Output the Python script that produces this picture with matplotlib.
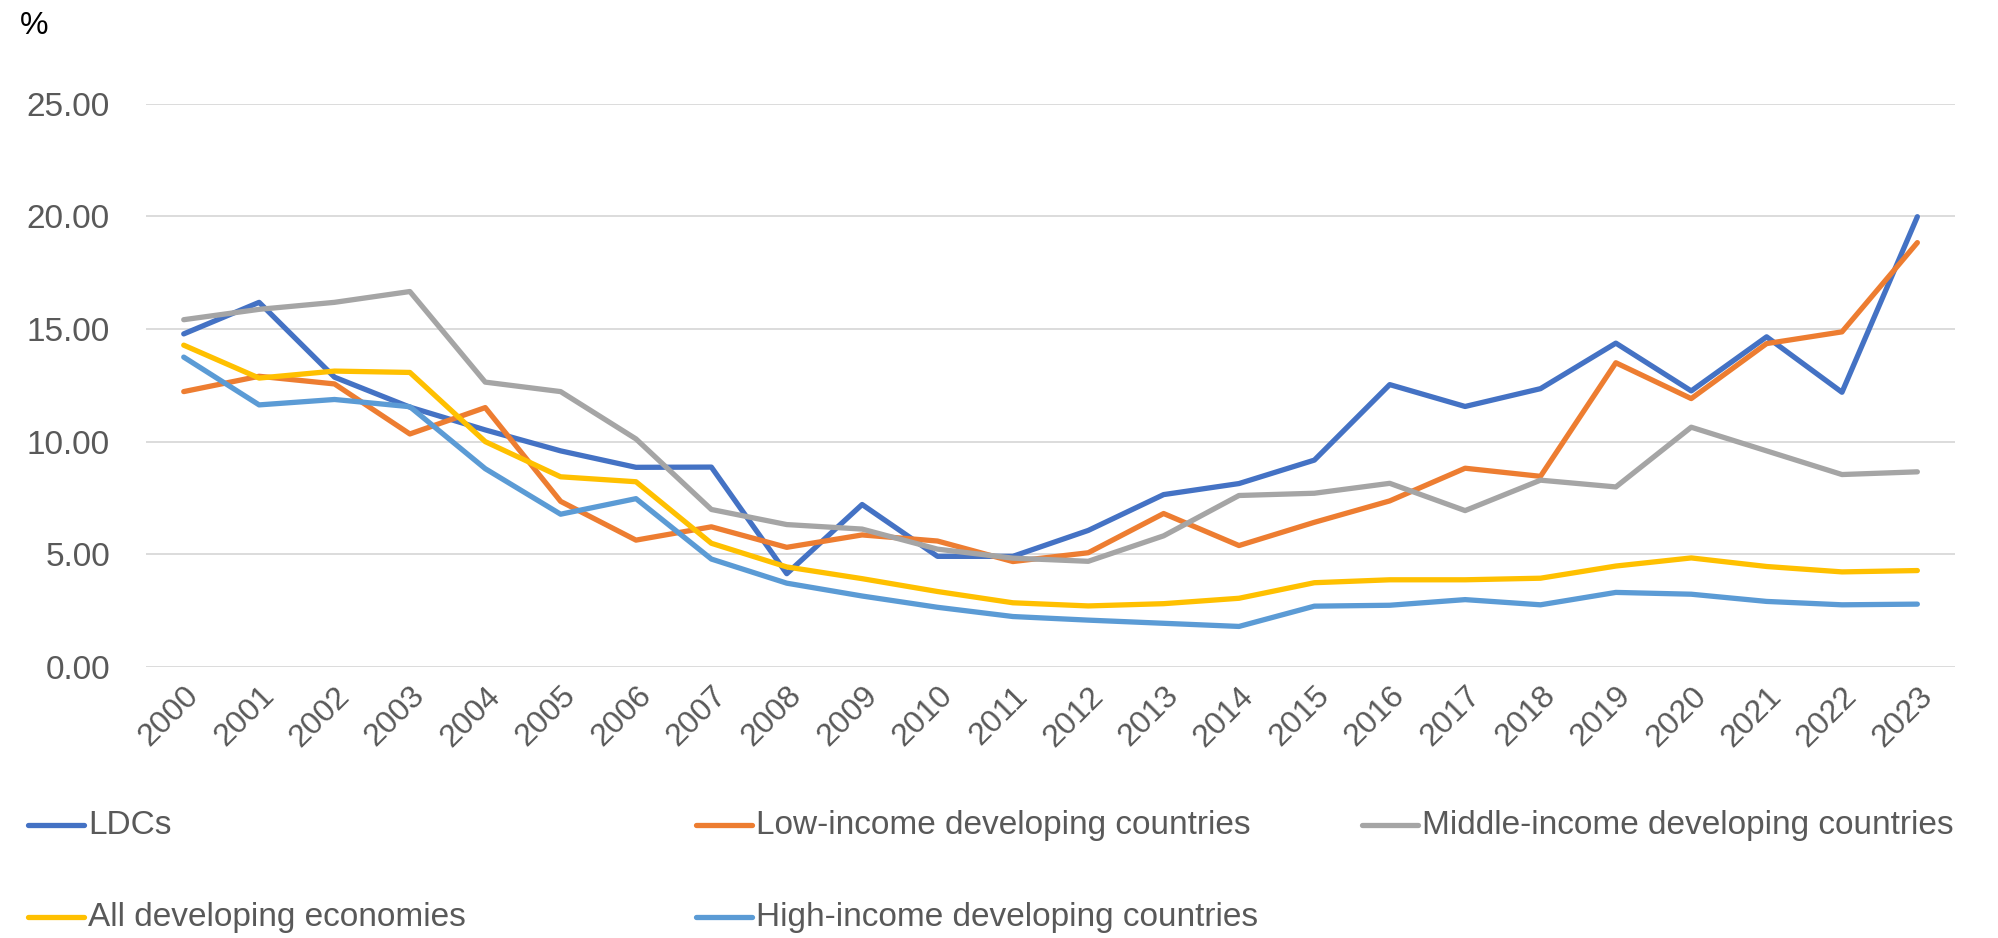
import numpy as np
import matplotlib
matplotlib.use("Agg")
import matplotlib.pyplot as plt
from matplotlib.lines import Line2D

plt.rcParams["font.family"] = ["Liberation Sans", "DejaVu Sans"]

years = list(range(2000, 2024))

ldcs = [14.78, 16.18, 12.86, 11.53, 10.52, 9.59, 8.86, 8.87, 4.14, 7.21, 4.91, 4.91,
        6.06, 7.65, 8.14, 9.18, 12.53, 11.56, 12.35, 14.37, 12.25, 14.65, 12.19, 19.98]
low_income = [12.22, 12.90, 12.56, 10.34, 11.51, 7.35, 5.63, 6.22, 5.31, 5.86, 5.59, 4.68,
              5.07, 6.81, 5.39, 6.42, 7.37, 8.82, 8.46, 13.50, 11.91, 14.35, 14.87, 18.83]
middle_income = [15.41, 15.87, 16.18, 16.66, 12.64, 12.22, 10.12, 6.99, 6.32, 6.12, 5.23, 4.83,
                 4.69, 5.82, 7.61, 7.71, 8.15, 6.94, 8.29, 7.99, 10.64, 9.59, 8.54, 8.66]
all_developing = [14.28, 12.82, 13.13, 13.07, 10.00, 8.44, 8.22, 5.49, 4.44, 3.92, 3.35, 2.85,
                  2.71, 2.81, 3.05, 3.74, 3.87, 3.87, 3.94, 4.48, 4.84, 4.46, 4.22, 4.28]
high_income = [13.75, 11.63, 11.87, 11.55, 8.80, 6.78, 7.47, 4.79, 3.72, 3.15, 2.65, 2.24,
               2.08, 1.94, 1.80, 2.70, 2.74, 2.99, 2.76, 3.31, 3.23, 2.91, 2.76, 2.79]

series = [
    ("LDCs", ldcs, "#4472C4"),
    ("Low-income developing countries", low_income, "#ED7D31"),
    ("Middle-income developing countries", middle_income, "#A5A5A5"),
    ("All developing economies", all_developing, "#FFC000"),
    ("High-income developing countries", high_income, "#5B9BD5"),
]

LW = 3.8

fig = plt.figure(figsize=(19.98, 9.38), dpi=100)
ax = fig.add_axes([0.0731, 0.2889, 0.9054, 0.6007])

x = np.arange(len(years))
for name, vals, color in series:
    ax.plot(x, vals, color=color, lw=LW, solid_capstyle="round",
            solid_joinstyle="round", zorder=3)

ax.set_xlim(-0.5, len(years) - 0.5)
ax.set_ylim(0, 25)
ax.set_yticks(np.arange(0, 26, 5))
ax.set_yticklabels([f"{v:.2f}" for v in np.arange(0, 26, 5)])
ax.set_xticks(x)
ax.set_xticklabels([str(y) for y in years], rotation=45, ha="right",
                   rotation_mode="anchor")
ax.tick_params(axis="both", length=0, colors="#595959")
ax.tick_params(axis="y", pad=26, labelsize=24)
ax.tick_params(axis="x", pad=10, labelsize=23)
ax.grid(axis="y", color="#D9D9D9", lw=1.3, zorder=0)
for s in ax.spines.values():
    s.set_visible(False)

fig.text(0.010, 0.972, "%", fontsize=23, color="black", va="center")

# legend laid out in three evenly spaced columns
col_x = [28, 696, 1362]
row_y = [825, 917]
W, H = 1998, 938
for i, (name, vals, color) in enumerate(series):
    cx = col_x[i % 3]
    cy = row_y[i // 3]
    fig.add_artist(Line2D([cx / W, (cx + 56) / W], [1 - cy / H, 1 - cy / H],
                          color=color, lw=LW, solid_capstyle="round",
                          transform=fig.transFigure))
    fig.text((cx + 60) / W, 1 - cy / H, name, fontsize=24, color="#595959",
             va="center", ha="left")

fig.savefig("out.png", dpi=100)
